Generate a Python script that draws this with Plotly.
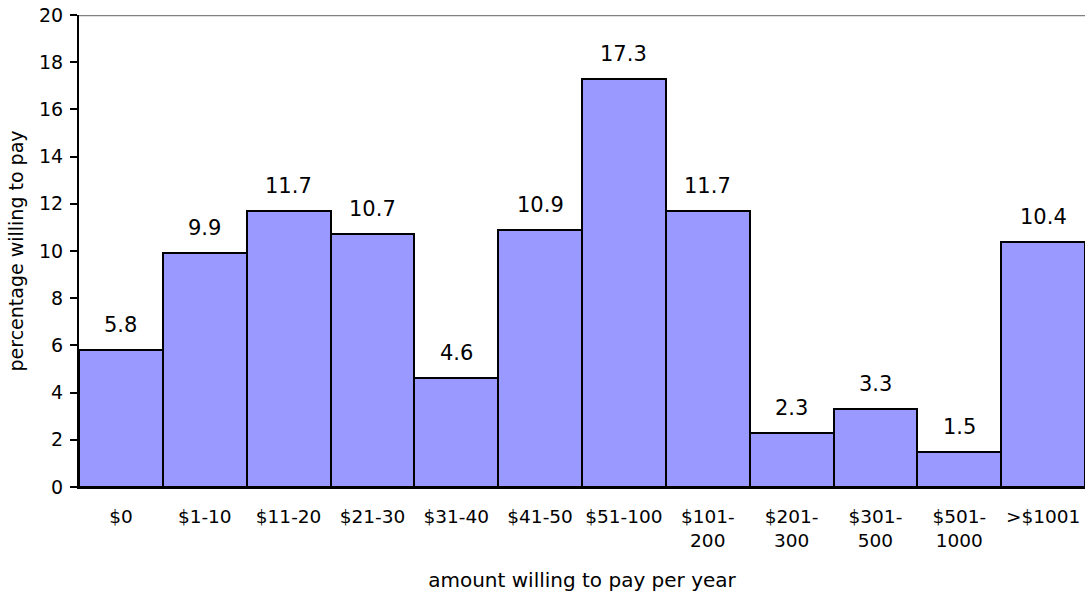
import plotly.graph_objects as go

categories = ["$0", "$1-10", "$11-20", "$21-30", "$31-40", "$41-50", "$51-100",
              "$101-200", "$201-300", "$301-500", "$501-1000", ">$1001"]
tick_text = ["$0", "$1-10", "$11-20", "$21-30", "$31-40", "$41-50", "$51-100",
             "$101-<br>200", "$201-<br>300", "$301-<br>500", "$501-<br>1000", ">$1001"]
percentages = [5.8, 9.9, 11.7, 10.7, 4.6, 10.9, 17.3, 11.7, 2.3, 3.3, 1.5, 10.4]

FONT = "DejaVu Sans, Liberation Sans, Arial, sans-serif"

fig = go.Figure(
    go.Bar(
        x=categories,
        y=percentages,
        marker=dict(color="#9999FF", line=dict(color="black", width=2)),
        hoverinfo="skip",
    )
)

for cat, val in zip(categories, percentages):
    fig.add_annotation(
        x=cat, y=val, text=f"{val:.1f}", showarrow=False,
        yanchor="bottom", yshift=11,
        font=dict(family=FONT, size=21, color="black"),
    )

# grey frame line along the top of the plot area
fig.add_shape(type="line", xref="paper", yref="y", x0=0, x1=1, y0=20, y1=20,
              line=dict(color="#808080", width=2.5))

fig.update_layout(
    width=1085, height=596,
    margin=dict(l=79, r=0, t=15, b=109),
    paper_bgcolor="white", plot_bgcolor="white",
    bargap=0,
    showlegend=False,
    font=dict(family=FONT, size=18.5, color="black"),
    xaxis=dict(
        tickmode="array", tickvals=categories, ticktext=tick_text,
        showline=True, linecolor="black", linewidth=2,
        ticks="", ticklabelstandoff=12,
        title=dict(text="amount willing to pay per year", standoff=23,
                   font=dict(size=20)),
        showgrid=False,
        tickfont=dict(size=18.5),
    ),
    yaxis=dict(
        range=[0, 20], dtick=2,
        showline=True, linecolor="black", linewidth=2,
        ticks="outside", ticklen=7, tickwidth=2, tickcolor="black",
        ticklabelstandoff=3,
        showgrid=False, zeroline=False,
        title=dict(text="percentage willing to pay", standoff=10,
                   font=dict(size=19)),
        tickfont=dict(size=19),
    ),
)

fig.write_html("out.html")
